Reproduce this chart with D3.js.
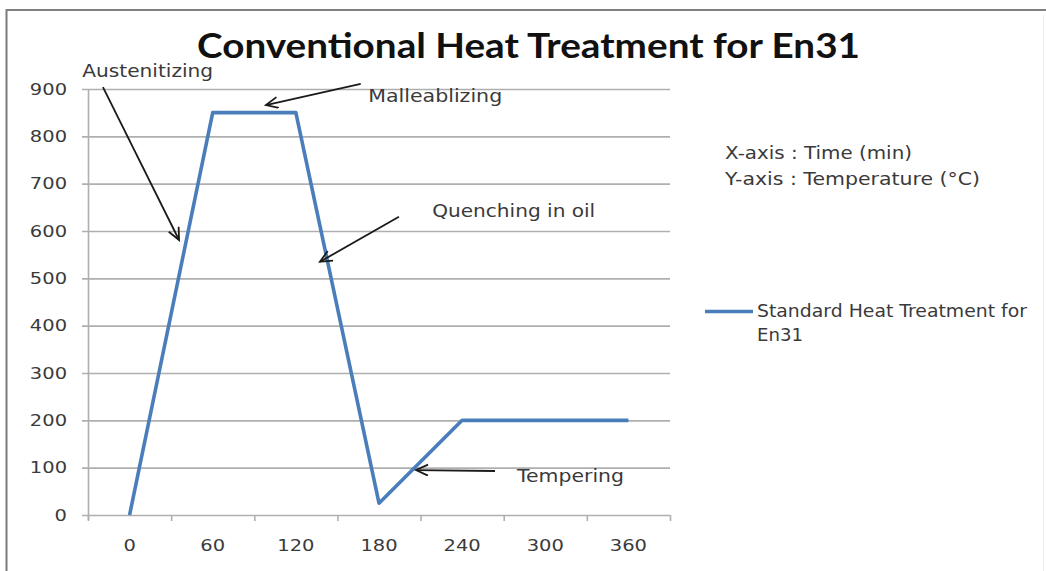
<!DOCTYPE html>
<html><head><meta charset="utf-8">
<script src="https://cdn.jsdelivr.net/npm/d3@7"></script>
<style>html,body{margin:0;padding:0;background:#fff;} svg{display:block;}</style>
</head><body>
<svg id="chart" width="1046" height="571"></svg>
<script>
// ---------- data ----------
const categories = ["0", "60", "120", "180", "240", "300", "360"];   // time (min)
const temperatures = [0, 850, 850, 25, 200, 200, 200];            // °C
const yTicks = [0, 100, 200, 300, 400, 500, 600, 700, 800, 900];
const titleText = "Conventional Heat Treatment for En31";
const seriesName = ["Standard Heat Treatment for", "En31"];
const axisNotes = ["X-axis : Time (min)", "Y-axis : Temperature (°C)"];
// annotation anchors in data units: [category index (fractional), temperature]
const annotationLabels = ["Austenitizing", "Malleablizing", "Quenching in oil", "Tempering"];
const annotationText  = [[-0.57, 925], [2.87, 873], [3.64, 630], [4.66, 70]];
const annotationFrom  = [[-0.32, 904], [2.78, 911], [3.24, 630], [4.395, 93]];
const annotationTo    = [[0.595, 581], [1.64, 866], [2.29, 535], [3.445, 95]];

// ---------- layout ----------
const W = 1046, H = 571;
const plot = {left: 88, right: 670, top: 89, bottom: 515};
const textColor = "#3a3a3a";
const lineColor = "#4a7ebb";
const gridColor = "#afafaf";
const fontSmall = "'DejaVu Sans', Verdana, sans-serif";
const stretch = 1.18;
const annWidths = [131, 134, 163, 107];

const svg = d3.select("#chart");

// frame
svg.append("line").attr("x1", 6.5).attr("x2", 6.5).attr("y1", 9).attr("y2", H)
  .attr("stroke", "#7a7a7a").attr("stroke-width", 2);
svg.append("line").attr("x1", 6).attr("x2", W).attr("y1", 10).attr("y2", 10)
  .attr("stroke", "#808080").attr("stroke-width", 2);
svg.append("line").attr("x1", 1043.5).attr("x2", 1043.5).attr("y1", 14).attr("y2", H)
  .attr("stroke", "#ececec").attr("stroke-width", 1);

// scales
const x = d3.scaleBand().domain(categories).range([plot.left, plot.right]).padding(0);
const xi = d3.scaleLinear().domain([-0.5, categories.length - 0.5]).range([plot.left, plot.right]);
const y = d3.scaleLinear().domain([0, 900]).range([plot.bottom, plot.top]);

// gridlines (extend a little left of the axis, as tick marks)
svg.append("g").selectAll("line").data(yTicks).join("line")
  .attr("x1", plot.left - 6).attr("x2", plot.right)
  .attr("y1", d => y(d) + 0.5).attr("y2", d => y(d) + 0.5)
  .attr("stroke", gridColor).attr("stroke-width", 1.6);

// y axis line
svg.append("line").attr("x1", plot.left + 0.5).attr("x2", plot.left + 0.5)
  .attr("y1", y(900)).attr("y2", plot.bottom + 5)
  .attr("stroke", gridColor).attr("stroke-width", 1.6);

// x axis boundary ticks
const bounds = categories.map(c => x(c)).concat([plot.right]);
svg.append("g").selectAll("line").data(bounds).join("line")
  .attr("x1", d => d + 0.5).attr("x2", d => d + 0.5)
  .attr("y1", plot.bottom).attr("y2", plot.bottom + 6)
  .attr("stroke", gridColor).attr("stroke-width", 1.6);

// y tick labels
const yAxis = svg.append("g").attr("transform", `translate(${plot.left},0)`)
  .call(d3.axisLeft(y).tickValues(yTicks).tickSize(0).tickPadding(21 / stretch).tickFormat(d3.format("d")));
yAxis.select(".domain").remove();
yAxis.selectAll("text").attr("font-family", fontSmall).attr("font-size", 16.5)
  .attr("fill", textColor).attr("transform", `scale(${stretch},1)`);

// x tick labels
const xAxis = svg.append("g").attr("transform", `translate(0,${plot.bottom})`)
  .call(d3.axisBottom(x).tickSize(0).tickPadding(24));
xAxis.select(".domain").remove();
xAxis.selectAll("text").attr("font-family", fontSmall).attr("font-size", 16.5)
  .attr("fill", textColor).attr("transform", `scale(${stretch},1)`);

// series line
const line = d3.line()
  .x((d, i) => x(categories[i]) + x.bandwidth() / 2)
  .y(d => y(d));
svg.append("path").datum(temperatures)
  .attr("d", line).attr("fill", "none")
  .attr("stroke", lineColor).attr("stroke-width", 3.6)
  .attr("stroke-linejoin", "round");

// title
svg.append("text").attr("x", 197).attr("y", 58)
  .attr("font-family", "Lato, 'Open Sans', sans-serif").attr("font-weight", "bold")
  .attr("font-size", 35).attr("fill", "#111")
  .attr("textLength", 663).attr("lengthAdjust", "spacingAndGlyphs")
  .text(titleText);

// arrow marker
svg.append("defs").append("marker")
  .attr("id", "arrow").attr("markerUnits", "userSpaceOnUse")
  .attr("markerWidth", 16).attr("markerHeight", 14)
  .attr("refX", 13).attr("refY", 6).attr("orient", "auto")
  .append("path").attr("d", "M1,0.5 L13,6 L1,11.5")
  .attr("fill", "none").attr("stroke", "#1a1a1a").attr("stroke-width", 1.8);

// annotations
annotationLabels.forEach((lab, i) => {
  svg.append("line")
    .attr("x1", xi(annotationFrom[i][0])).attr("y1", y(annotationFrom[i][1]))
    .attr("x2", xi(annotationTo[i][0])).attr("y2", y(annotationTo[i][1]))
    .attr("stroke", "#1a1a1a").attr("stroke-width", 1.8)
    .attr("marker-end", "url(#arrow)");
  svg.append("text")
    .attr("x", xi(annotationText[i][0])).attr("y", y(annotationText[i][1]))
    .attr("font-family", fontSmall).attr("font-size", 17).attr("fill", textColor)
    .attr("textLength", annWidths[i]).attr("lengthAdjust", "spacingAndGlyphs")
    .text(lab);
});

// axis notes
const noteWidths = [187, 255];
axisNotes.forEach((t, i) => {
  svg.append("text").attr("x", 725).attr("y", 159 + i * 26)
    .attr("font-family", fontSmall).attr("font-size", 17).attr("fill", textColor)
    .attr("textLength", noteWidths[i]).attr("lengthAdjust", "spacingAndGlyphs")
    .text(t);
});

// legend
svg.append("line").attr("x1", 705).attr("x2", 753).attr("y1", 311.5).attr("y2", 311.5)
  .attr("stroke", lineColor).attr("stroke-width", 3.6);
const legWidths = [270, 46];
seriesName.forEach((t, i) => {
  svg.append("text").attr("x", 757).attr("y", 317 + i * 24)
    .attr("font-family", fontSmall).attr("font-size", 17).attr("fill", textColor)
    .attr("textLength", legWidths[i]).attr("lengthAdjust", "spacingAndGlyphs")
    .text(t);
});
</script>
</body></html>
